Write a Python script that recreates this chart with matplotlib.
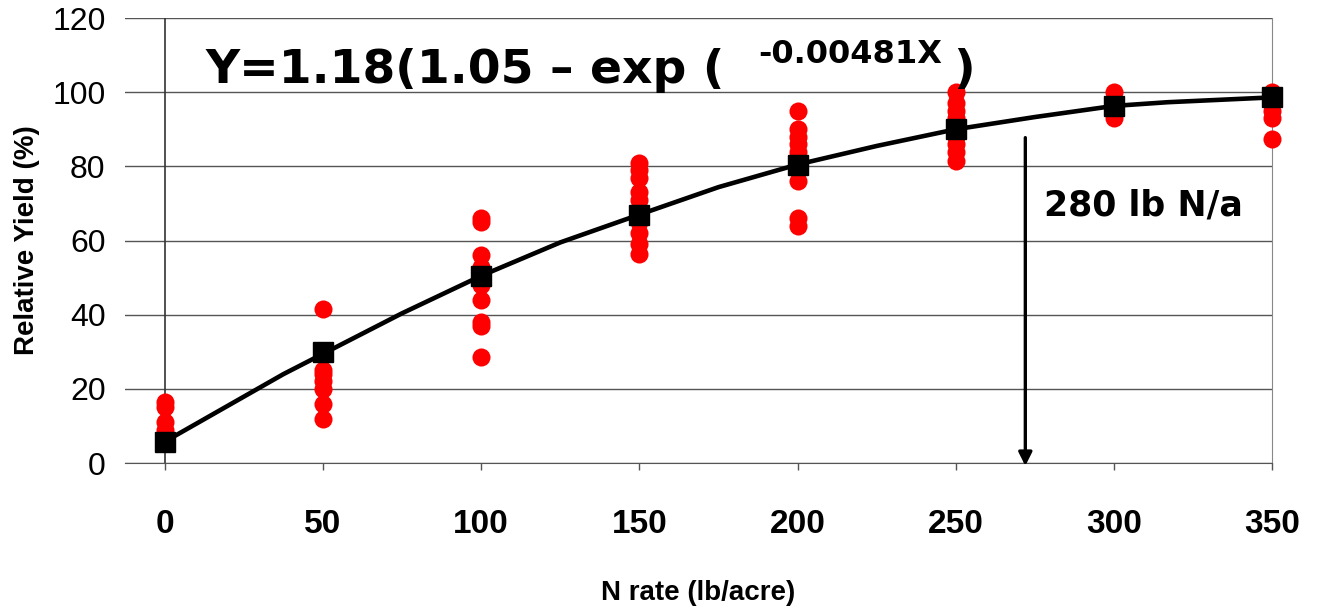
import matplotlib
matplotlib.use("Agg")
import matplotlib.pyplot as plt

# Observed relative yields (red dots) per N rate
n_rates = [0, 50, 100, 150, 200, 250, 300, 350]
obs_0 = [16.5, 15, 11, 9, 7, 5.5]
obs_50 = [41.5, 25, 24, 22, 20, 16, 12]
obs_100 = [66, 65, 56, 53, 50, 48, 44, 38, 37, 28.5]
obs_150 = [81, 79, 77, 73, 71, 68, 65, 62, 59, 56.5]
obs_200 = [95, 90, 88, 86, 84, 82, 76, 66, 64]
obs_250 = [100, 97, 95, 93, 90, 88, 86, 84, 81.5]
obs_300 = [100, 97, 95, 93]
obs_350 = [100, 95, 93, 87.5]
observed = [obs_0, obs_50, obs_100, obs_150, obs_200, obs_250, obs_300, obs_350]

# Mean values (black squares)
means = [5.8, 30, 50.5, 67, 80.5, 90, 96.3, 98.6]

# Fitted curve
curve_x = [0, 37.5, 75, 100, 125, 150, 175, 200, 225, 250, 275, 300, 317, 350]
curve_y = [5.8, 24, 40.4, 50.5, 59.5, 67, 74.4, 80.5, 85.5, 90, 93.3, 96.3, 97.3, 98.6]

arrow_x = 272
arrow_top = 88.5
label_text = "280 lb N/a"

fig = plt.figure(figsize=(13.23, 6.15), dpi=100)
ax = fig.add_axes([0.0945, 0.247, 0.867, 0.7237])

for x, ys in zip(n_rates, observed):
    ax.plot([x] * len(ys), ys, 'o', color='#ff0000', markersize=13,
            markeredgewidth=0, zorder=3, clip_on=False)

ax.plot(curve_x, curve_y, '-', color='black', lw=3.3, zorder=4, clip_on=False)
ax.plot(n_rates, means, 's', color='black', markersize=14.5, zorder=5, clip_on=False)

ax.set_xlim(-12.6, 350)
ax.set_ylim(0, 120)
ax.set_yticks(range(0, 121, 20))
ax.set_xticks(n_rates)
ax.grid(axis='y', color='#555555', lw=1)
ax.set_axisbelow(True)
ax.axvline(0, color='#333333', lw=1.2, zorder=2)

for s in ['left', 'top']:
    ax.spines[s].set_visible(False)
ax.spines['right'].set_color('#888888')
ax.spines['bottom'].set_color('#555555')

ax.tick_params(axis='y', length=0, pad=14, labelsize=23)
ax.tick_params(axis='x', length=5, width=1, color='#555555', pad=28, labelsize=24)
for lbl in ax.get_yticklabels():
    lbl.set_fontfamily('Liberation Sans')
for lbl in ax.get_xticklabels():
    lbl.set_fontfamily('Liberation Sans')
    lbl.set_fontweight('bold')

ax.set_ylabel('Relative Yield (%)', fontsize=20, fontweight='bold',
              family='Liberation Sans')
ax.yaxis.set_label_coords(-0.074, 0.5)
ax.set_xlabel('N rate (lb/acre)', fontsize=20, fontweight='bold',
              family='Liberation Sans')
ax.xaxis.set_label_coords(0.5, -0.262)

# Arrow
ax.annotate('', xy=(arrow_x, -1.5), xytext=(arrow_x, arrow_top),
            arrowprops=dict(arrowstyle='-|>', color='black', lw=2.4,
                            mutation_scale=20), annotation_clip=False, zorder=6)
ax.text(arrow_x + 6, 69.5, label_text, fontsize=25, fontweight='bold',
        family='DejaVu Sans', va='center', ha='left')

# Equation
ax.text(0.07, 0.883, 'Y=1.18(1.05 \u2013 exp (', transform=ax.transAxes,
        fontsize=34, fontweight='bold', family='DejaVu Sans', va='center', ha='left')
ax.text(0.552, 0.917, '-0.00481X', transform=ax.transAxes,
        fontsize=23, fontweight='bold', family='DejaVu Sans', va='center', ha='left')
ax.text(0.722, 0.883, ')', transform=ax.transAxes,
        fontsize=34, fontweight='bold', family='DejaVu Sans', va='center', ha='left')

fig.savefig('out.png', dpi=100)
